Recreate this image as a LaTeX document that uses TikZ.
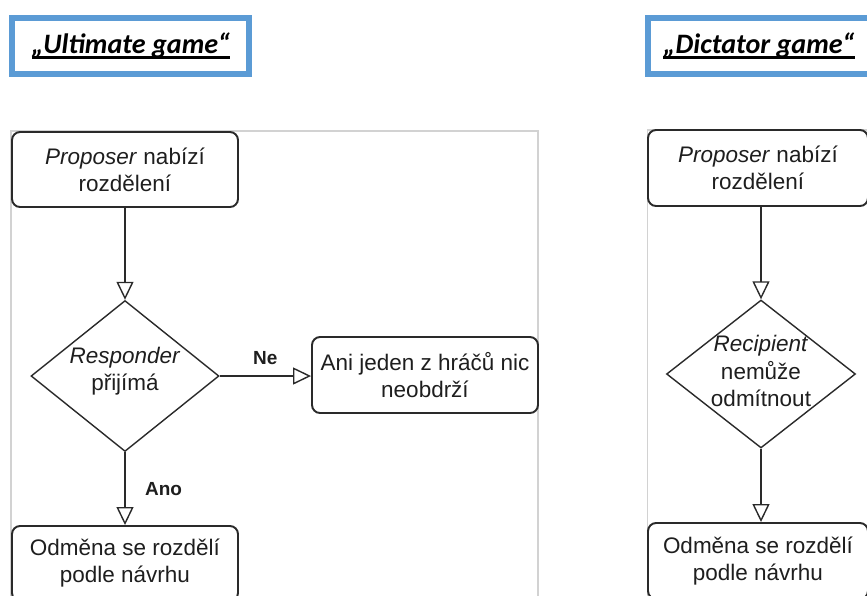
\documentclass[tikz,border=0pt]{standalone}
\usepackage{fontspec}
\usepackage{xcolor}
\usepackage{tikz}
\usetikzlibrary{arrows.meta,shapes.geometric}
\newfontfamily\flowfont{Liberation Sans}
\newfontfamily\titlefont{Carlito}
\definecolor{framegray}{HTML}{D2D2D2}
\definecolor{titleblue}{HTML}{5B9BD5}
\definecolor{linedark}{HTML}{2A2A2A}
\definecolor{textdark}{HTML}{1E1E1E}
\newsavebox{\titlebx}
\newcommand{\ulinetitle}[1]{\sbox{\titlebx}{#1}\rlap{\rule[-3pt]{\wd\titlebx}{1.5pt}}\usebox{\titlebx}}
\tikzset{
  >={Triangle[open,length=3.6mm,width=3.4mm]},
  line/.style={draw=linedark, ->, line width=0.8pt},
  frame/.style={draw=framegray, line width=0.6pt},
  titlebox/.style={
    draw=titleblue,
    line width=0.12cm,
    minimum height=1.12cm,
    inner sep=0pt,
    font=\titlefont\bfseries\itshape\fontsize{16}{19}\selectfont
  },
  box/.style={
    draw=linedark,
    rounded corners=1.6mm,
    line width=1.1pt,
    align=center,
    text=textdark,
    font=\flowfont\fontsize{12.8}{15.4}\selectfont,
    minimum height=1.5cm,
    minimum width=4.52cm,
    inner sep=0pt
  },
  decision/.style={diamond, draw=linedark, line width=0.8pt, inner sep=0pt},
  dtext/.style={
    align=center,
    text=textdark,
    font=\flowfont\fontsize{12.8}{15.4}\selectfont,
    inner sep=0pt
  },
  lbl/.style={font=\flowfont\bfseries\fontsize{10.8}{13}\selectfont, text=textdark, inner sep=0pt}
}

\begin{document}
\begin{tikzpicture}[x=0.02cm,y=-0.02cm]
  \useasboundingbox (0,0) rectangle (867,596);
  \clip (0,0) rectangle (867,596);

  % frames of the two screenshots
  \draw[frame] (11,620) |- (538,131) -- (538,620);
  \draw[frame] (647.5,620) |- (890,130);

  % titles
  \node[titlebox, minimum width=4.75cm] (ultt) at (130.75,46)
    {\ulinetitle{„Ultimate game“}};
  \node[titlebox, minimum width=4.44cm] (dictt) at (759,46)
    {\ulinetitle{„Dictator game“}};

  % ultimate game
  \node[box] (prop1) at (125,169.5) {\textit{Proposer} nabízí\\rozdělení};
  \node[decision, minimum width=3.76cm, minimum height=3.02cm] (resp) at (125,376) {};
  \node[dtext] (resptxt) at (125,371) {\textit{Responder}\\přijímá};
  \node[box, minimum height=1.52cm] (ani) at (425,375) {Ani jeden z hráčů nic\\neobdrží};
  \node[box] (odm1) at (125,563.5) {Odměna se rozdělí\\podle návrhu};

  \draw[line] (prop1) -- (resp);
  \draw[line] (resp.east) -- (resp.east -| ani.west)
    node[lbl, midway, above=0.22cm] (ne) {Ne};
  \draw[line] (resp) -- (odm1)
    node[lbl, midway, anchor=west, xshift=0.39cm] (ano) {Ano};

  % dictator game
  \node[box, minimum width=4.4cm, minimum height=1.52cm] (prop2) at (758,168) {\textit{Proposer} nabízí\\rozdělení};
  \node[decision, minimum width=3.78cm, minimum height=2.96cm] (dict) at (761,374) {};
  \node[dtext] (dicttxt) at (761,371) {\textit{Recipient}\\nemůže\\odmítnout};
  \node[box, minimum width=4.4cm, minimum height=1.52cm] (odm2) at (758,561) {Odměna se rozdělí\\podle návrhu};

  \draw[line] (prop2.south -| dict.north) -- (dict.north);
  \draw[line] (dict.south) -- (dict.south |- odm2.north);
\end{tikzpicture}
\end{document}
